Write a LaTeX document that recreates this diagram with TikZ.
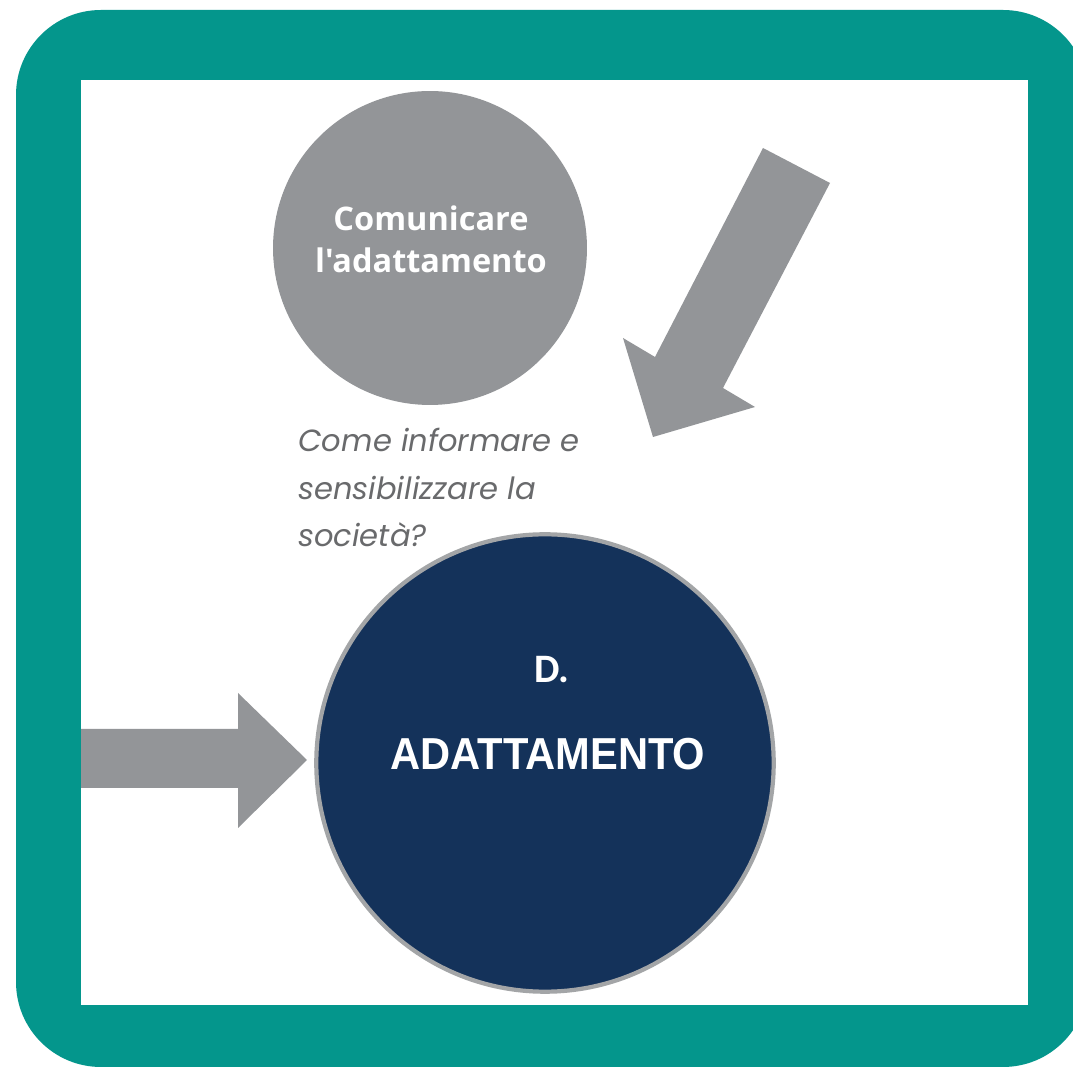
\documentclass[tikz,border=0pt]{standalone}
\usepackage{fontspec}
\usepackage{graphicx}
\setmainfont{Open Sans}[Ligatures=TeXOff]
\newfontfamily\calfont{Carlito}
\newfontfamily\arfont{Liberation Sans}
\newfontfamily\qfont{Poppins}
\definecolor{frameteal}{RGB}{4,150,140}
\definecolor{arrgray}{RGB}{147,149,152}
\definecolor{navy}{RGB}{20,50,90}
\definecolor{qgray}{RGB}{105,106,108}
\tikzset{
  graycirc/.style={circle,fill=arrgray,minimum size=6.28cm,inner sep=0pt},
  bluecirc/.style={circle,fill=navy,draw=arrgray!85!white,line width=2.4pt,minimum size=9.15cm,inner sep=0pt},
  graylabel/.style={text=white,font=\bfseries\fontsize{18.5}{20}\selectfont,anchor=base,inner sep=0pt},
  qtext/.style={text=qgray,font=\qfont\itshape\fontsize{17.4}{26.7}\selectfont,anchor=base west,inner sep=0pt},
  arrowshape/.style={fill=arrgray}
}
\begin{document}
\begin{tikzpicture}[x=0.02cm,y=-0.02cm]
\useasboundingbox (0,0) rectangle (1073,1070);
\clip (0,0) rectangle (1073,1070);
% frame
\fill[frameteal,rounded corners=1.7cm] (16,10) rectangle (1088,1067);
\fill[white] (81,80) rectangle (1028,1005);
% gray circle
\node[graycirc] (comm) at (430,248) {};
\node[graylabel] (comm1) at (431,231) {Comunicare};
\node[graylabel] (comm2) at (431,273) {l'adattamento};
% diagonal arrow
\fill[arrowshape] (763,148) -- (830,183) -- (723,388) -- (755,407) -- (653,437) -- (623,338) -- (655,357) -- cycle;
% question text
\node[qtext] (q1) at (298,452) {Come informare e};
\node[qtext] (q2) at (298,500) {sensibilizzare la};
\node[qtext] (q3) at (298,547) {società?};
% left arrow
\fill[arrowshape] (81,729) -- (238,729) -- (238,693) -- (307,760) -- (238,828) -- (238,788) -- (81,788) -- cycle;
% blue circle
\node[bluecirc] (adapt) at (545,763) {};
\node[text=white,font=\calfont\bfseries\fontsize{23}{26}\selectfont,anchor=base,inner sep=0pt] (dlab) at (552,683) {D.};
\node[text=white,font=\arfont\bfseries\fontsize{25.5}{30}\selectfont,anchor=base,inner sep=0pt] (alab) at (548,770) {\scalebox{0.93}[1]{ADATTAMENTO}};
\end{tikzpicture}
\end{document}
